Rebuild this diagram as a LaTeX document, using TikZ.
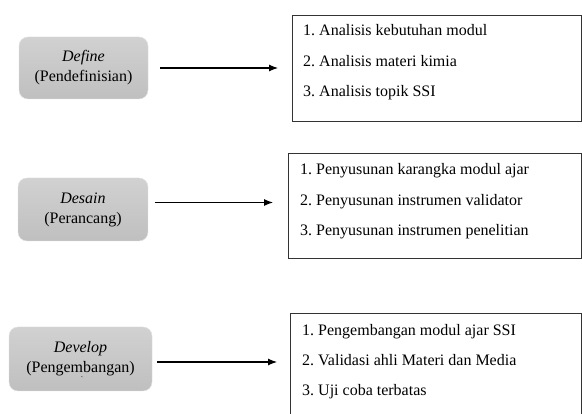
\documentclass[tikz,border=0pt]{standalone}
\usepackage{fontspec}
\setmainfont{Liberation Serif}
\usetikzlibrary{arrows.meta,calc}
\frenchspacing

\tikzset{
  stage/.style={rounded corners=9pt, top color=black!18, bottom color=black!25, draw=black!12,
    align=center, font=\fontsize{16}{20}\selectfont, inner sep=0pt},
  itembox/.style={draw=black!80, line width=1.1pt, anchor=north west},
  item/.style={anchor=base west, font=\fontsize{16}{19}\selectfont, inner sep=0pt},
  flow/.style={line width=1.1pt, -{Latex[length=9pt,width=7pt]}}
}

\begin{document}
\begin{tikzpicture}[x=1pt,y=-1pt]
\clip (0,0) rectangle (582,414);
\fill[white] (0,0) rectangle (582,414);

%stages
\node[stage, minimum width=129pt, minimum height=62pt] (define) at (83.5,68) {\textit{Define}\\(Pendefinisian)};
\node[stage, minimum width=130pt, minimum height=63pt] (desain) at (83,209.5) {\textit{Desain}\\(Perancang)};
\node[stage, minimum width=143pt, minimum height=64pt] (develop) at (80.5,359) {\textit{Develop}\\(Pengembangan)};
\node[font=\scriptsize, inner sep=0pt] (stray) at (82,379) {\textasciigrave};

%item boxes
\node[itembox, minimum width=288.5pt, minimum height=106pt] (defbox) at (292,15) {};
\node[itembox, minimum width=292.5pt, minimum height=105pt] (desbox) at (288,153) {};
\node[itembox, minimum width=290.5pt, minimum height=120pt] (devbox) at (290,313) {};

%items
\foreach \txt [count=\i] in {1. Analisis kebutuhan modul, 2. Analisis materi kimia, 3. Analisis topik SSI}
  \node[item] (def-\i) at ($(defbox.north west)+(11,21+30.5*\i-30.5)$) {\txt};
\foreach \txt [count=\i] in {1. Penyusunan karangka modul ajar, 2. Penyusunan instrumen validator, 3. Penyusunan instrumen penelitian}
  \node[item] (des-\i) at ($(desbox.north west)+(12,22+30.5*\i-30.5)$) {\txt};
\foreach \txt [count=\i] in {1. Pengembangan modul ajar SSI, 2. Validasi ahli Materi dan Media, 3. Uji coba terbatas}
  \node[item] (dev-\i) at ($(devbox.north west)+(12,23+30*\i-30)$) {\txt};

%arrows
\draw[flow, shorten <=12pt, shorten >=14pt] (define.east) -- (define.east -| defbox.west);
\draw[flow, shorten <=7pt, shorten >=15pt] ([yshift=7pt]desain.east) -- ([yshift=7pt]desain.east -| desbox.west);
\draw[flow, shorten <=5pt, shorten >=13pt] ([yshift=-3pt]develop.east) -- ([yshift=-3pt]develop.east -| devbox.west);
\end{tikzpicture}
\end{document}
